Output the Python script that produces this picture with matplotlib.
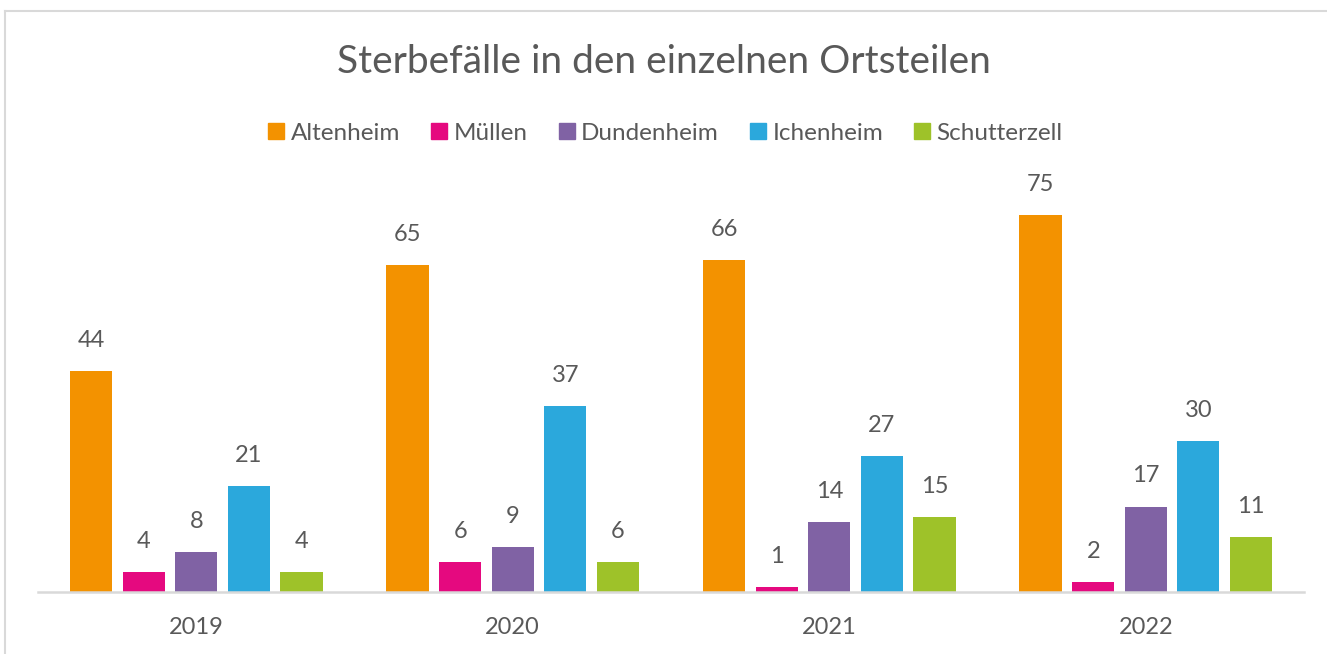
import numpy as np
import matplotlib
matplotlib.use("Agg")
import matplotlib.pyplot as plt
from matplotlib.lines import Line2D

# --- DATA ---
years = ["2019", "2020", "2021", "2022"]
districts = ["Altenheim", "Müllen", "Dundenheim", "Ichenheim", "Schutterzell"]
altenheim = [44, 65, 66, 75]
muellen = [4, 6, 1, 2]
dundenheim = [8, 9, 14, 17]
ichenheim = [21, 37, 27, 30]
schutterzell = [4, 6, 15, 11]
series = [altenheim, muellen, dundenheim, ichenheim, schutterzell]

colors = ["#F39200", "#E5097F", "#8062A4", "#2BA8DC", "#9EC229"]
text_col = "#595959"
font = "Lato"

fig = plt.figure(figsize=(13.27, 6.54), dpi=100)
ax = fig.add_axes([38 / 1327, 1 - 592 / 654, (1304 - 38) / 1327, (592 - 190) / 654])

x = np.arange(len(years))
slot = 0.166
width = 0.134
for i, (name, vals) in enumerate(zip(districts, series)):
    pos = x + (i - 2) * slot
    bars = ax.bar(pos, vals, width=width, color=colors[i], label=name, zorder=2)
    for b, v in zip(bars, vals):
        ax.text(b.get_x() + b.get_width() / 2, v + 4.0, str(v), ha="center", va="bottom",
                fontsize=17, color=text_col, family=font)

ax.set_xlim(-0.5, len(years) - 0.5)
ax.set_ylim(0, 80)
ax.set_yticks([])
ax.set_xticks(x)
ax.set_xticklabels(years, fontsize=17, color=text_col, family=font)
ax.tick_params(axis="x", length=0, pad=18)
for s in ["top", "right", "left"]:
    ax.spines[s].set_visible(False)
ax.spines["bottom"].set_color("#D9D9D9")
ax.spines["bottom"].set_linewidth(1.8)

# title + legend
fig.text(0.5, 1 - 62 / 654, "Sterbefälle in den einzelnen Ortsteilen", ha="center", va="center",
         fontsize=28, color=text_col, family=font)
handles = [Line2D([], [], marker="s", linestyle="none", markersize=11, color=c) for c in colors]
leg = fig.legend(handles, districts, loc="center", bbox_to_anchor=(0.5, 1 - 133 / 654), ncol=5,
                 frameon=False, handletextpad=0.1, columnspacing=1.1, handlelength=1.0,
                 prop={"family": font, "size": 17.5})
for t in leg.get_texts():
    t.set_color(text_col)

# chart border (top and left visible)
fig.add_artist(Line2D([5 / 1327, 5 / 1327], [0, 1 - 11 / 654], transform=fig.transFigure,
                      color="#D9D9D9", linewidth=1.5))
fig.add_artist(Line2D([5 / 1327, 1], [1 - 11 / 654, 1 - 11 / 654], transform=fig.transFigure,
                      color="#D9D9D9", linewidth=1.5))

plt.savefig("out.png", dpi=100)
